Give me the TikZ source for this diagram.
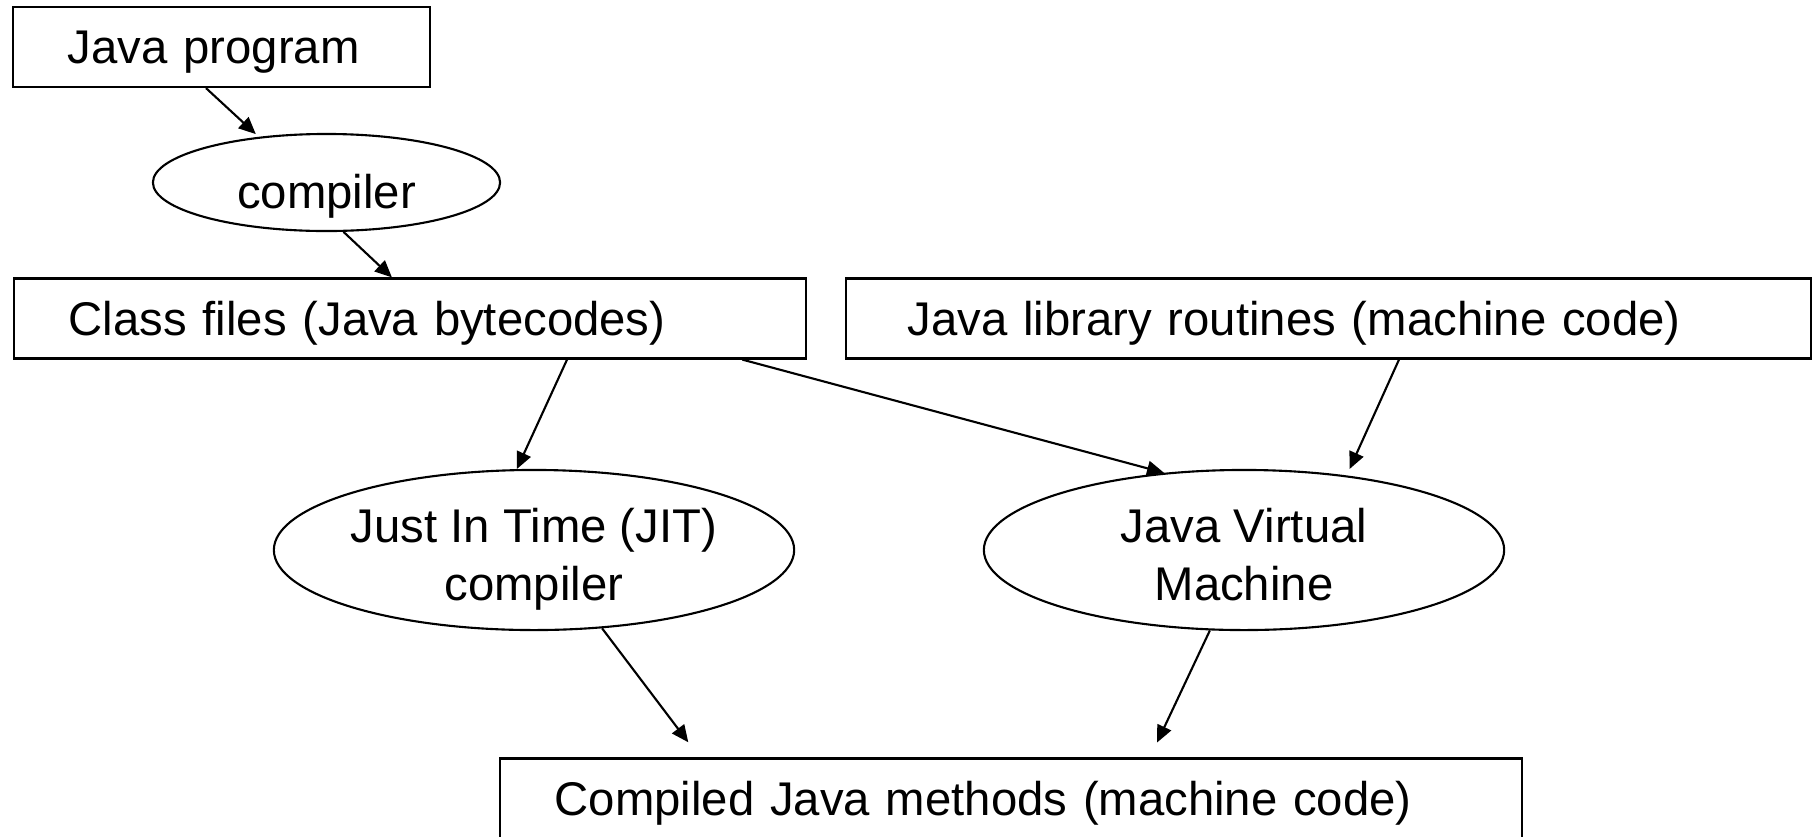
\documentclass[tikz,border=0pt]{standalone}
\usepackage{fontspec}
\setmainfont{Liberation Sans}
\usetikzlibrary{shapes.geometric,arrows.meta}

\begin{document}
\begin{tikzpicture}[x=0.01cm,y=-0.01cm,line width=0.6pt]
    \tikzstyle{every node}+=[inner sep=0pt,font=\fontsize{13.45}{16.3}\selectfont]
    \tikzstyle{box}=[draw=black,rectangle,minimum height=0.8cm,inner xsep=0.55cm,align=left,text height=0.35cm,text depth=0.02cm]
    \tikzstyle{proc}=[draw=black,ellipse,align=center,minimum width=5.2cm,minimum height=1.6cm,text height=1cm,text depth=-0.03cm]
    \tikzstyle{arr}=[draw=black,-{Triangle[length=0.17cm,width=0.15cm]}]
    \useasboundingbox (0,0) rectangle (1813,836);
    \clip (0,0) rectangle (1813,836);
    % source side
    \node [box,text width=3.07cm] (prog) at (221.5,47) {Java program};
    \node [proc,minimum width=3.47cm,minimum height=0.97cm,text height=0.6cm,text depth=0.08cm] (comp) at (326.5,182.5) {compiler};
    \node [box,text width=6.82cm] (class) at (410,318.5) {Class files (Java bytecodes)};
    \node [box,inner xsep=0.62cm,text width=8.41cm] (lib) at (1328.5,318.5) {Java library routines (machine code)};
    % run time
    \node [proc] (jit) at (534,550) {Just In Time (JIT)\\compiler};
    \node [proc] (jvm) at (1244,550) {Java Virtual\\Machine};
    \node [box,minimum height=0.81cm,text width=9.12cm] (done) at (1011,799) {Compiled Java methods (machine code)};
    % arrows
    \draw [arr,shorten >=0.04cm] ([xshift=-0.155cm]prog.south) -- (comp.146);
    \draw [arr] (comp.289) -- ([xshift=3.79cm]class.north west);
    \draw [arr] ([xshift=5.54cm]class.south west) -- (jit.102);
    \draw [arr] ([xshift=-0.65cm]class.south east) -- (jvm.136);
    \draw [arr,shorten >=0.07cm] ([xshift=5.54cm]lib.south west) -- (jvm.36);
    \draw [arr,shorten >=0.19cm] (jit.311) -- ([xshift=2.01cm]done.north west);
    \draw [arr,shorten >=0.165cm] (jvm.247) -- ([xshift=6.51cm]done.north west);
\end{tikzpicture}
\end{document}
